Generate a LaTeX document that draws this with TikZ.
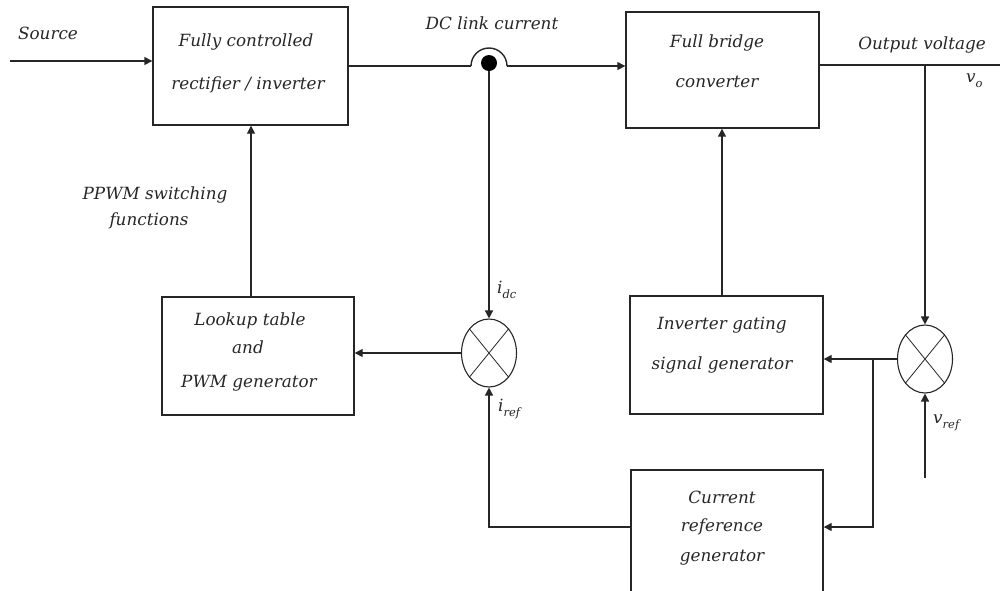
\documentclass[tikz,border=0pt]{standalone}
\usepackage{fontspec}
\setmainfont{DejaVu Serif}
\usetikzlibrary{arrows.meta,shapes.geometric}
\newcommand\lowsub[1]{\raisebox{-0.6ex}{\fontsize{11.5}{12}\selectfont #1}}

\begin{document}
\begin{tikzpicture}[x=1pt,y=-1pt,
  line/.style={line width=1.4pt, draw=black!85},
  arr/.style={line, -{Triangle[length=8pt,width=8pt]}},
  block/.style={draw=black!85, line width=1.4pt, rectangle, inner sep=0pt},
  txt/.style={font=\itshape\fontsize{16.8}{18}\selectfont, inner sep=0pt, text=black!85},
  sumj/.style={draw=black!85, ellipse, line width=1.1pt, minimum width=55pt, minimum height=68pt, inner sep=0pt},
  dot/.style={circle, fill=black, minimum size=16pt, inner sep=0pt},
]
\useasboundingbox (0,0) rectangle (1000,590);
\clip (0,0) rectangle (1000,590);

% blocks
\node[block, minimum width=195pt, minimum height=118pt] (rect) at (250.5,66) {};
\node[block, minimum width=193pt, minimum height=116pt] (fb)   at (722.5,70) {};
\node[block, minimum width=192pt, minimum height=118pt] (lut)  at (258,356) {};
\node[block, minimum width=193pt, minimum height=118pt] (igs)  at (726.5,355) {};
\node[block, minimum width=192pt, minimum height=140pt] (crg)  at (727,540) {};

% block texts
\node[txt] (rect-a) at (246,42) {Fully controlled};
\node[txt] (rect-b) at (248,85) {rectifier / inverter};
\node[txt] (fb-a) at (717,43) {Full bridge};
\node[txt] (fb-b) at (717,82) {converter};
\node[txt] (lut-a) at (250,321) {Lookup table};
\node[txt] (lut-b) at (248,347) {and};
\node[txt] (lut-c) at (249,383) {PWM generator};
\node[txt] (igs-a) at (722,325) {Inverter gating};
\node[txt] (igs-b) at (722,365) {signal generator};
\node[txt] (crg-a) at (722,497) {Current};
\node[txt] (crg-b) at (722,527) {reference};
\node[txt] (crg-c) at (722,558) {generator};

% summing junctions
\node[sumj] (sl) at (489,353) {};
\node[sumj] (sr) at (925,359) {};
\foreach \s in {sl,sr}{
  \draw[line width=0.8pt, black!85] (\s.north west) -- (\s.south east) (\s.north east) -- (\s.south west);
}

% DC link tap point
\node[dot] (tap) at (489,63) {};

% free ends and bends
\coordinate (src) at (10,61);
\coordinate (hopL) at (471,66);
\coordinate (hopR) at (507,66);
\coordinate (outE) at (1000,65);
\coordinate (vo) at (925,65);
\coordinate (vrefS) at (925,478);
\coordinate (jR) at (873,359);
\coordinate (jRb) at (873,527);
\coordinate (jL) at (489,527);

% labels
\node[txt] (l-src) at (48,33) {Source};
\node[txt] (l-dc) at (492,23) {DC link current};
\node[txt] (l-out) at (922,45) {Output voltage};
\node[txt, anchor=west] (l-vo) at (966,81) {v\lowsub{o}};
\node[txt, anchor=west] (l-idc) at (497,290) {i\lowsub{dc}};
\node[txt, anchor=west] (l-iref) at (498,409) {i\lowsub{ref}};
\node[txt, anchor=west] (l-vref) at (933,423) {v\lowsub{ref}};
\node[txt] (l-pp1) at (155,195) {PPWM switching};
\node[txt] (l-pp2) at (149,221) {functions};

% power path
\draw[arr] (src) -- (src -| rect.west);
\draw[line] (rect.east |- hopL) -- (hopL);
\draw[line] (hopL) arc[start angle=180, end angle=360, radius=18];
\draw[arr] (hopR) -- (hopR -| fb.west);
\draw[line] (fb.east |- outE) -- (outE);

% control paths
\draw[arr] (tap) -- (sl.north);
\draw[arr] (sl.west) -- (sl.west -| lut.east);
\draw[arr] (lut.north -| 251,0) -- (rect.south -| 251,0);
\draw[arr] (vo) -- (sr.north);
\draw[arr] (vrefS) -- (sr.south);
\draw[arr] (sr.west) -- (jR) -- (jR -| igs.east);
\draw[arr] (jR) -- (jRb) -- (jRb -| crg.east);
\draw[arr] (igs.north -| 722,0) -- (fb.south -| 722,0);
\draw[arr] (crg.west |- jL) -- (jL) -- (sl.south);
\end{tikzpicture}
\end{document}
